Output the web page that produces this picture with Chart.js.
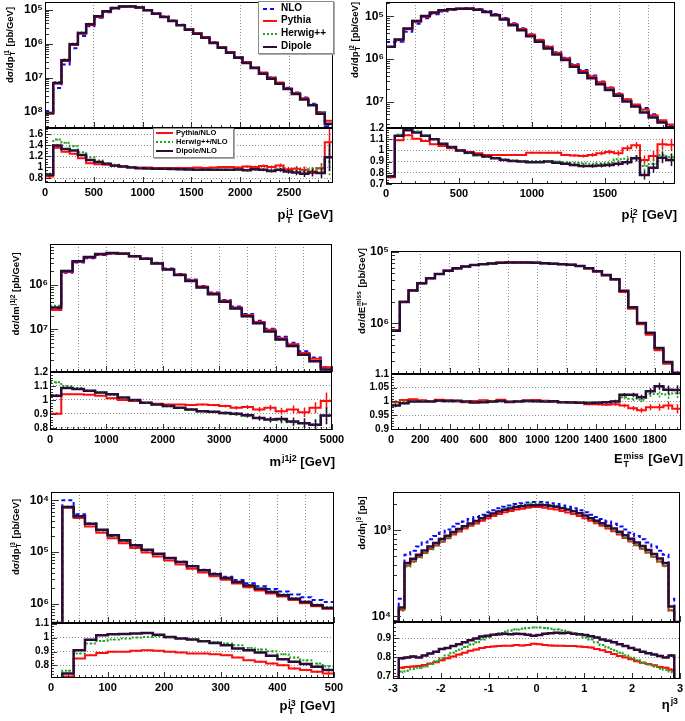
<!DOCTYPE html>
<html>
<head>
<meta charset="utf-8">
<script src="https://cdn.jsdelivr.net/npm/chart.js"></script>
<style>
  body { margin: 0; background: #fff; }
  #page { position: relative; width: 685px; height: 721px; overflow: hidden; font-family: "Liberation Sans", Arial, sans-serif; }
  canvas { position: absolute; }
  .yt, .xt { position: absolute; font-weight: bold; white-space: nowrap; color: #000; line-height: 1; z-index: 5; }
  .yt { font-size: 9.5px; transform: translate(-50%, -50%) rotate(-90deg); }
  .xt { font-size: 13px; transform: translate(-100%, -50%); }
  .ss { display: inline-flex; flex-direction: column; font-size: 0.68em; line-height: 0.95; vertical-align: middle; margin: 0 1px; }
  .sp { font-size: 0.68em; position: relative; top: -0.55em; margin-left: 1px; }
  .leg { position: absolute; background: #fff; border: 1px solid #8a8a8a; box-shadow: 1px 1px 0 #aaa; font-weight: bold; z-index: 6; }
  .leg .row { position: absolute; white-space: nowrap; line-height: 1; }
  .leg .smp { position: absolute; height: 2px; }
</style>
</head>
<body>
<div id="page">
  <canvas id="c1m"></canvas><canvas id="c1r"></canvas>
  <canvas id="c2m"></canvas><canvas id="c2r"></canvas>
  <canvas id="c3m"></canvas><canvas id="c3r"></canvas>
  <canvas id="c4m"></canvas><canvas id="c4r"></canvas>
  <canvas id="c5m"></canvas><canvas id="c5r"></canvas>
  <canvas id="c6m"></canvas><canvas id="c6r"></canvas>

  <div class="yt" style="left:10px;top:45px">dσ/dp<span class="ss"><span>j1</span><span>T</span></span> [pb/GeV]</div>
  <div class="yt" style="left:355px;top:40px">dσ/dp<span class="ss"><span>j2</span><span>T</span></span> [pb/GeV]</div>
  <div class="yt" style="left:16px;top:294px">dσ/dm<span class="sp">j1j2</span> [pb/GeV]</div>
  <div class="yt" style="left:362px;top:291px">dσ/dE<span class="ss"><span>miss</span><span>T</span></span> [pb/GeV]</div>
  <div class="yt" style="left:16px;top:537px">dσ/dp<span class="ss"><span>j3</span><span>T</span></span> [pb/GeV]</div>
  <div class="yt" style="left:362px;top:523px">dσ/dη<span class="sp">j3</span> [pb]</div>

  <div class="xt" style="left:333px;top:216px">p<span class="ss"><span>j1</span><span>T</span></span> [GeV]</div>
  <div class="xt" style="left:677px;top:216px">p<span class="ss"><span>j2</span><span>T</span></span> [GeV]</div>
  <div class="xt" style="left:335px;top:461px">m<span class="sp">j1j2</span> [GeV]</div>
  <div class="xt" style="left:683px;top:460px">E<span class="ss"><span>miss</span><span>T</span></span> [GeV]</div>
  <div class="xt" style="left:335px;top:707px">p<span class="ss"><span>j3</span><span>T</span></span> [GeV]</div>
  <div class="xt" style="left:678px;top:704px">η<span class="sp">j3</span></div>

  <div class="leg" style="left:258px;top:1px;width:74px;height:51px;font-size:10px">
    <div class="smp" style="left:4px;top:6px;width:14px;background:repeating-linear-gradient(90deg,#0a0aff 0 4px,transparent 4px 7px)"></div>
    <div class="row" style="left:22px;top:1px">NLO</div>
    <div class="smp" style="left:4px;top:18px;width:14px;background:#ff0d0d"></div>
    <div class="row" style="left:22px;top:13px">Pythia</div>
    <div class="smp" style="left:4px;top:31px;width:14px;background:repeating-linear-gradient(90deg,#1ea51e 0 2px,transparent 2px 4px)"></div>
    <div class="row" style="left:22px;top:26px">Herwig++</div>
    <div class="smp" style="left:4px;top:44px;width:14px;background:#2c0b3a"></div>
    <div class="row" style="left:22px;top:39px">Dipole</div>
  </div>

  <div class="leg" style="left:153px;top:128px;width:79px;height:28px;font-size:7.5px">
    <div class="smp" style="left:2px;top:3px;width:17px;background:#ff0d0d"></div>
    <div class="row" style="left:22px;top:0px">Pythia/NLO</div>
    <div class="smp" style="left:2px;top:12px;width:17px;background:repeating-linear-gradient(90deg,#1ea51e 0 2px,transparent 2px 4px)"></div>
    <div class="row" style="left:22px;top:9px">Herwig++/NLO</div>
    <div class="smp" style="left:2px;top:21px;width:17px;background:#2c0b3a"></div>
    <div class="row" style="left:22px;top:18px">Dipole/NLO</div>
  </div>
</div>

<script>
// ---- leading jet pT (35 bins, 0-2950 GeV)
const pt1Nlo = [1.08e-8, 5.08e-8, 2.46e-7, 7.40e-7, 1.70e-6, 3.29e-6, 5.84e-6, 8.42e-6, 1.09e-5, 1.24e-5, 1.26e-5, 1.17e-5, 9.79e-6, 7.87e-6, 6.29e-6, 4.83e-6, 3.61e-6, 2.71e-6, 2.08e-6, 1.59e-6, 1.11e-6, 8.09e-7, 5.77e-7, 4.09e-7, 2.90e-7, 2.03e-7, 1.40e-7, 1.02e-7, 7.12e-8, 5.13e-8, 3.74e-8, 2.66e-8, 1.74e-8, 1.00e-8, 3.85e-9];
const pt1Pythia = [8.96e-9, 6.86e-8, 3.15e-7, 9.18e-7, 1.97e-6, 3.52e-6, 6.13e-6, 8.76e-6, 1.11e-5, 1.25e-5, 1.26e-5, 1.16e-5, 9.69e-6, 7.75e-6, 6.20e-6, 4.76e-6, 3.56e-6, 2.67e-6, 2.06e-6, 1.57e-6, 1.10e-6, 8.09e-7, 5.77e-7, 4.05e-7, 2.93e-7, 2.03e-7, 1.43e-7, 1.02e-7, 7.33e-8, 4.92e-8, 3.63e-8, 2.53e-8, 1.60e-8, 9.8e-9, 5.58e-9];
const pt1Herwig = [9.5e-9, 7.62e-8, 3.54e-7, 1.02e-6, 2.16e-6, 3.88e-6, 6.54e-6, 9.01e-6, 1.13e-5, 1.26e-5, 1.26e-5, 1.15e-5, 9.55e-6, 7.63e-6, 6.10e-6, 4.66e-6, 3.47e-6, 2.59e-6, 1.99e-6, 1.51e-6, 1.06e-6, 7.73e-7, 5.48e-7, 3.93e-7, 2.76e-7, 1.95e-7, 1.34e-7, 9.59e-8, 6.76e-8, 4.77e-8, 3.48e-8, 2.42e-8, 1.67e-8, 9.8e-9, 4.24e-9];
const pt1Dipole = [9.33e-9, 7.06e-8, 3.27e-7, 9.62e-7, 2.07e-6, 3.72e-6, 6.37e-6, 8.93e-6, 1.12e-5, 1.25e-5, 1.25e-5, 1.15e-5, 9.55e-6, 7.63e-6, 6.10e-6, 4.66e-6, 3.47e-6, 2.59e-6, 1.98e-6, 1.51e-6, 1.05e-6, 7.69e-7, 5.48e-7, 3.91e-7, 2.73e-7, 1.95e-7, 1.33e-7, 9.48e-8, 6.76e-8, 4.72e-8, 3.37e-8, 2.34e-8, 1.57e-8, 8.91e-9, 4.54e-9];
const pt1RatioPythia = [0.83, 1.35, 1.28, 1.24, 1.16, 1.07, 1.05, 1.04, 1.02, 1.01, 1.0, 0.99, 0.99, 0.985, 0.985, 0.985, 0.985, 0.985, 0.99, 0.985, 0.99, 1.0, 1.0, 0.99, 1.01, 1.0, 1.02, 1.0, 1.03, 0.96, 0.97, 0.95, 0.92, 0.98, 1.45];
const pt1RatioHerwig = [0.88, 1.50, 1.44, 1.38, 1.27, 1.18, 1.12, 1.07, 1.04, 1.02, 1.0, 0.985, 0.975, 0.97, 0.97, 0.965, 0.96, 0.955, 0.955, 0.95, 0.955, 0.955, 0.95, 0.96, 0.95, 0.96, 0.955, 0.94, 0.95, 0.93, 0.93, 0.91, 0.96, 0.98, 1.1];
const pt1RatioDipole = [0.86, 1.39, 1.33, 1.30, 1.22, 1.13, 1.09, 1.06, 1.03, 1.01, 0.99, 0.98, 0.975, 0.97, 0.97, 0.965, 0.96, 0.955, 0.95, 0.95, 0.95, 0.95, 0.95, 0.955, 0.94, 0.96, 0.95, 0.93, 0.95, 0.92, 0.90, 0.88, 0.90, 0.89, 1.18];
const pt1RatioErr = [0.03, 0.02, 0.015, 0.01, 0.01, 0.008, 0.006, 0.005, 0.005, 0.005, 0.005, 0.005, 0.005, 0.006, 0.006, 0.007, 0.008, 0.009, 0.01, 0.011, 0.012, 0.014, 0.016, 0.018, 0.02, 0.022, 0.025, 0.03, 0.035, 0.04, 0.05, 0.06, 0.07, 0.09, 0.25];

// ---- second jet pT (33 bins, 0-1980 GeV)
const pt2Nlo = [2.49e-6, 2.52e-6, 4.36e-6, 6.71e-6, 9.03e-6, 1.11e-5, 1.30e-5, 1.42e-5, 1.51e-5, 1.54e-5, 1.49e-5, 1.33e-5, 1.13e-5, 9.14e-6, 6.82e-6, 5.23e-6, 3.81e-6, 2.82e-6, 1.96e-6, 1.43e-6, 1.07e-6, 7.54e-7, 5.52e-7, 4.08e-7, 2.94e-7, 2.15e-7, 1.55e-7, 1.12e-7, 8.22e-8, 7.09e-8, 5.01e-8, 3.45e-8, 2.74e-8];
const pt2Pythia = [1.89e-6, 2.75e-6, 4.95e-6, 7.41e-6, 9.80e-6, 1.17e-5, 1.35e-5, 1.45e-5, 1.51e-5, 1.52e-5, 1.45e-5, 1.28e-5, 1.08e-5, 8.77e-6, 6.55e-6, 5.02e-6, 3.73e-6, 2.76e-6, 1.92e-6, 1.40e-6, 1.03e-6, 7.20e-7, 5.24e-7, 3.92e-7, 2.87e-7, 2.12e-7, 1.51e-7, 1.14e-7, 8.59e-8, 6.49e-8, 4.76e-8, 3.64e-8, 2.88e-8];
const pt2Herwig = [1.92e-6, 2.87e-6, 5.19e-6, 7.85e-6, 1.02e-5, 1.22e-5, 1.38e-5, 1.46e-5, 1.51e-5, 1.50e-5, 1.42e-5, 1.25e-5, 1.05e-5, 8.41e-6, 6.21e-6, 4.73e-6, 3.45e-6, 2.55e-6, 1.77e-6, 1.29e-6, 9.58e-7, 6.71e-7, 4.89e-7, 3.59e-7, 2.60e-7, 1.91e-7, 1.43e-7, 1.04e-7, 7.69e-8, 6.10e-8, 4.41e-8, 3.31e-8, 2.58e-8];
const pt2Dipole = [1.92e-6, 2.85e-6, 5.15e-6, 7.78e-6, 1.02e-5, 1.22e-5, 1.38e-5, 1.46e-5, 1.51e-5, 1.51e-5, 1.43e-5, 1.26e-5, 1.05e-5, 8.36e-6, 6.17e-6, 4.71e-6, 3.41e-6, 2.52e-6, 1.76e-6, 1.27e-6, 9.40e-7, 6.56e-7, 4.75e-7, 3.51e-7, 2.54e-7, 1.87e-7, 1.36e-7, 1.0e-7, 7.64e-8, 5.53e-8, 4.23e-8, 3.23e-8, 2.51e-8];
const pt2RatioPythia = [0.76, 1.09, 1.135, 1.105, 1.085, 1.055, 1.04, 1.02, 1.0, 0.985, 0.975, 0.96, 0.96, 0.96, 0.96, 0.96, 0.98, 0.98, 0.98, 0.98, 0.96, 0.955, 0.95, 0.96, 0.975, 0.985, 0.975, 1.02, 1.045, 0.915, 0.95, 1.055, 1.05];
const pt2RatioHerwig = [0.77, 1.14, 1.19, 1.17, 1.135, 1.10, 1.06, 1.03, 1.0, 0.975, 0.955, 0.94, 0.93, 0.92, 0.91, 0.905, 0.905, 0.905, 0.905, 0.90, 0.895, 0.89, 0.885, 0.88, 0.885, 0.89, 0.92, 0.925, 0.935, 0.86, 0.88, 0.96, 0.94];
const pt2RatioDipole = [0.77, 1.13, 1.18, 1.16, 1.13, 1.10, 1.06, 1.03, 1.0, 0.98, 0.96, 0.945, 0.93, 0.915, 0.905, 0.90, 0.895, 0.895, 0.90, 0.89, 0.88, 0.87, 0.86, 0.86, 0.865, 0.87, 0.88, 0.895, 0.93, 0.78, 0.845, 0.935, 0.915];
const pt2RatioErr = [0.01, 0.008, 0.006, 0.005, 0.005, 0.004, 0.004, 0.004, 0.004, 0.004, 0.004, 0.005, 0.005, 0.005, 0.006, 0.006, 0.007, 0.008, 0.009, 0.01, 0.011, 0.012, 0.014, 0.016, 0.018, 0.02, 0.022, 0.025, 0.03, 0.04, 0.045, 0.05, 0.055];

// ---- dijet mass (25 bins, 0-5000 GeV)
const mjjNlo = [2.99e-7, 1.85e-6, 3.12e-6, 3.93e-6, 4.63e-6, 4.94e-6, 4.89e-6, 4.34e-6, 3.87e-6, 3.08e-6, 2.29e-6, 1.74e-6, 1.30e-6, 9.33e-7, 6.67e-7, 4.54e-7, 3.25e-7, 2.19e-7, 1.56e-7, 1.03e-7, 6.83e-8, 4.95e-8, 3.23e-8, 2.32e-8, 1.41e-8];
const mjjPythia = [2.70e-7, 1.92e-6, 3.24e-6, 4.08e-6, 4.77e-6, 5.00e-6, 4.89e-6, 4.31e-6, 3.79e-6, 3.00e-6, 2.22e-6, 1.68e-6, 1.25e-6, 9.03e-7, 6.42e-7, 4.34e-7, 3.07e-7, 2.08e-7, 1.45e-7, 9.72e-8, 6.28e-8, 4.61e-8, 2.95e-8, 2.19e-8, 1.40e-8];
const mjjHerwig = [3.37e-7, 2.04e-6, 3.39e-6, 4.19e-6, 4.87e-6, 5.12e-6, 4.96e-6, 4.33e-6, 3.79e-6, 2.98e-6, 2.19e-6, 1.64e-6, 1.21e-6, 8.56e-7, 6.08e-7, 4.11e-7, 2.92e-7, 1.94e-7, 1.36e-7, 8.84e-8, 5.84e-8, 4.16e-8, 2.70e-8, 1.91e-8, 1.25e-8];
const mjjDipole = [3.08e-7, 2.01e-6, 3.36e-6, 4.19e-6, 4.88e-6, 5.14e-6, 4.97e-6, 4.34e-6, 3.79e-6, 2.98e-6, 2.19e-6, 1.64e-6, 1.21e-6, 8.58e-7, 6.10e-7, 4.12e-7, 2.93e-7, 1.95e-7, 1.36e-7, 8.87e-8, 5.89e-8, 4.19e-8, 2.69e-8, 1.91e-8, 1.25e-8];
const mjjRatioPythia = [0.902, 1.04, 1.04, 1.037, 1.03, 1.012, 1.0, 0.993, 0.98, 0.973, 0.968, 0.968, 0.963, 0.968, 0.963, 0.956, 0.944, 0.949, 0.932, 0.944, 0.92, 0.932, 0.912, 0.944, 0.993];
const mjjRatioHerwig = [1.127, 1.1, 1.085, 1.066, 1.052, 1.036, 1.014, 0.998, 0.98, 0.966, 0.955, 0.942, 0.93, 0.918, 0.912, 0.905, 0.898, 0.886, 0.87, 0.858, 0.855, 0.84, 0.835, 0.825, 0.885];
const mjjRatioDipole = [1.03, 1.085, 1.078, 1.066, 1.054, 1.04, 1.017, 1.0, 0.98, 0.968, 0.956, 0.944, 0.932, 0.92, 0.915, 0.907, 0.902, 0.89, 0.87, 0.86, 0.863, 0.846, 0.834, 0.822, 0.888];
const mjjRatioErr = [0.01, 0.004, 0.003, 0.003, 0.003, 0.003, 0.003, 0.003, 0.004, 0.004, 0.005, 0.005, 0.006, 0.007, 0.008, 0.01, 0.012, 0.014, 0.017, 0.02, 0.024, 0.028, 0.034, 0.04, 0.06];

// ---- missing ET (33 bins, 0-1980 GeV)
const metNlo = [8.04e-7, 2.01e-6, 2.89e-6, 3.65e-6, 4.27e-6, 4.90e-6, 5.45e-6, 5.87e-6, 6.27e-6, 6.57e-6, 6.77e-6, 6.9e-6, 7.04e-6, 7.13e-6, 7.12e-6, 7.11e-6, 7.04e-6, 6.95e-6, 6.84e-6, 6.77e-6, 6.63e-6, 6.38e-6, 5.94e-6, 5.38e-6, 4.76e-6, 4.15e-6, 2.80e-6, 1.65e-6, 1.005e-6, 7.14e-7, 4.31e-7, 2.78e-7, 1.97e-7];
const metPythia = [8.02e-7, 2.02e-6, 2.91e-6, 3.66e-6, 4.28e-6, 4.93e-6, 5.47e-6, 5.87e-6, 6.25e-6, 6.58e-6, 6.80e-6, 6.9e-6, 7.08e-6, 7.13e-6, 7.13e-6, 7.14e-6, 7.08e-6, 6.97e-6, 6.83e-6, 6.75e-6, 6.62e-6, 6.35e-6, 5.88e-6, 5.33e-6, 4.70e-6, 4.11e-6, 2.76e-6, 1.61e-6, 9.73e-7, 6.99e-7, 4.22e-7, 2.74e-7, 1.92e-7];
const metHerwig = [8.04e-7, 2.0e-6, 2.89e-6, 3.66e-6, 4.27e-6, 4.90e-6, 5.45e-6, 5.88e-6, 6.26e-6, 6.56e-6, 6.77e-6, 6.91e-6, 7.04e-6, 7.12e-6, 7.13e-6, 7.11e-6, 7.04e-6, 6.96e-6, 6.83e-6, 6.76e-6, 6.61e-6, 6.36e-6, 5.92e-6, 5.36e-6, 4.75e-6, 4.16e-6, 2.84e-6, 1.67e-6, 1.01e-6, 7.33e-7, 4.43e-7, 2.85e-7, 2.03e-7];
const metDipole = [7.92e-7, 2.0e-6, 2.89e-6, 3.65e-6, 4.27e-6, 4.91e-6, 5.46e-6, 5.89e-6, 6.27e-6, 6.54e-6, 6.75e-6, 6.9e-6, 7.05e-6, 7.12e-6, 7.12e-6, 7.12e-6, 7.05e-6, 6.95e-6, 6.85e-6, 6.75e-6, 6.6e-6, 6.35e-6, 5.9e-6, 5.35e-6, 4.75e-6, 4.15e-6, 2.87e-6, 1.69e-6, 1.02e-6, 7.4e-7, 4.55e-7, 2.9e-7, 2.05e-7];
const metRatioPythia = [0.997, 1.005, 1.008, 1.004, 1.002, 1.006, 1.004, 1.0, 0.997, 1.002, 1.004, 1.0, 1.006, 1.0, 1.002, 1.004, 1.005, 1.003, 0.998, 0.997, 0.998, 0.995, 0.99, 0.99, 0.988, 0.99, 0.985, 0.975, 0.968, 0.979, 0.979, 0.985, 0.973];
const metRatioHerwig = [1.0, 0.997, 1.0, 1.002, 1.0, 1.001, 1.0, 1.002, 0.999, 0.998, 1.0, 1.001, 1.0, 0.999, 1.001, 1.0, 1.0, 1.001, 0.999, 0.998, 0.997, 0.997, 0.996, 0.997, 0.998, 1.002, 1.015, 1.01, 1.006, 1.027, 1.027, 1.025, 1.03];
const metRatioDipole = [0.985, 0.993, 1.0, 1.0, 1.0, 1.003, 1.002, 1.003, 1.0, 0.996, 0.997, 1.0, 1.002, 0.998, 1.0, 1.002, 1.001, 1.0, 1.001, 0.997, 0.996, 0.995, 0.994, 0.995, 0.997, 1.0, 1.024, 1.024, 1.015, 1.037, 1.055, 1.043, 1.042];
const metRatioErr = [0.006, 0.004, 0.003, 0.003, 0.003, 0.003, 0.003, 0.003, 0.003, 0.003, 0.003, 0.003, 0.003, 0.003, 0.003, 0.003, 0.003, 0.003, 0.003, 0.003, 0.004, 0.004, 0.004, 0.005, 0.005, 0.006, 0.007, 0.008, 0.009, 0.011, 0.013, 0.015, 0.017];

// ---- third jet pT (25 bins, 0-500 GeV)
const pt3Nlo = [0, 1.0e-4, 5.38e-5, 3.58e-5, 2.65e-5, 2.05e-5, 1.64e-5, 1.31e-5, 1.07e-5, 9.09e-6, 7.62e-6, 6.45e-6, 5.35e-6, 4.54e-6, 3.85e-6, 3.32e-6, 2.86e-6, 2.48e-6, 2.18e-6, 1.93e-6, 1.72e-6, 1.51e-6, 1.33e-6, 1.18e-6, 1.08e-6];
const pt3Pythia = [0, 7.2e-5, 4.57e-5, 3.13e-5, 2.36e-5, 1.84e-5, 1.47e-5, 1.19e-5, 9.74e-6, 8.23e-6, 6.84e-6, 5.76e-6, 4.74e-6, 4.02e-6, 3.39e-6, 2.9e-6, 2.45e-6, 2.08e-6, 1.8e-6, 1.57e-6, 1.38e-6, 1.18e-6, 1.02e-6, 8.91e-7, 8.02e-7];
const pt3Herwig = [0, 7.62e-5, 4.77e-5, 3.43e-5, 2.59e-5, 2.02e-5, 1.63e-5, 1.31e-5, 1.08e-5, 9.18e-6, 7.62e-6, 6.4e-6, 5.28e-6, 4.43e-6, 3.73e-6, 3.18e-6, 2.7e-6, 2.3e-6, 1.99e-6, 1.74e-6, 1.52e-6, 1.29e-6, 1.11e-6, 9.6e-7, 8.59e-7];
const pt3Dipole = [0, 7.43e-5, 4.9e-5, 3.53e-5, 2.7e-5, 2.1e-5, 1.68e-5, 1.35e-5, 1.11e-5, 9.28e-6, 7.66e-6, 6.4e-6, 5.28e-6, 4.42e-6, 3.7e-6, 3.14e-6, 2.63e-6, 2.26e-6, 1.95e-6, 1.68e-6, 1.45e-6, 1.25e-6, 1.08e-6, 9.3e-7, 8.25e-7];
const pt3RatioPythia = [0, 0.72, 0.85, 0.874, 0.89, 0.898, 0.898, 0.905, 0.91, 0.905, 0.898, 0.893, 0.886, 0.886, 0.881, 0.874, 0.857, 0.838, 0.826, 0.814, 0.802, 0.779, 0.767, 0.755, 0.743];
const pt3RatioHerwig = [0, 0.762, 0.886, 0.957, 0.976, 0.986, 0.993, 1.0, 1.005, 1.01, 1.0, 0.993, 0.986, 0.976, 0.969, 0.957, 0.945, 0.926, 0.914, 0.902, 0.881, 0.857, 0.838, 0.814, 0.795];
const pt3RatioDipole = [0, 0.743, 0.91, 0.985, 1.017, 1.024, 1.026, 1.029, 1.033, 1.021, 1.005, 0.993, 0.986, 0.974, 0.962, 0.945, 0.921, 0.91, 0.893, 0.869, 0.845, 0.826, 0.81, 0.79, 0.767];
const pt3RatioErr = [0, 0.005, 0.004, 0.004, 0.004, 0.004, 0.004, 0.004, 0.004, 0.004, 0.004, 0.005, 0.005, 0.005, 0.005, 0.006, 0.006, 0.006, 0.007, 0.007, 0.008, 0.008, 0.009, 0.009, 0.01];

// ---- third jet eta (50 bins, -3..3)
const eta3Nlo = [0, 1.6e-4, 5.2e-4, 5.8e-4, 6.5e-4, 7.2e-4, 7.9e-4, 8.6e-4, 9.4e-4, 1.02e-3, 1.11e-3, 1.19e-3, 1.27e-3, 1.35e-3, 1.43e-3, 1.52e-3, 1.62e-3, 1.71e-3, 1.80e-3, 1.88e-3, 1.95e-3, 2.02e-3, 2.07e-3, 2.11e-3, 2.14e-3, 2.14e-3, 2.11e-3, 2.07e-3, 2.02e-3, 1.95e-3, 1.88e-3, 1.80e-3, 1.71e-3, 1.62e-3, 1.52e-3, 1.43e-3, 1.35e-3, 1.27e-3, 1.19e-3, 1.11e-3, 1.02e-3, 9.4e-4, 8.6e-4, 7.9e-4, 7.2e-4, 6.5e-4, 5.8e-4, 5.2e-4, 1.6e-4, 0];
const eta3Pythia = [0, 1.19e-4, 3.9e-4, 4.36e-4, 4.91e-4, 5.47e-4, 6.07e-4, 6.67e-4, 7.38e-4, 8.11e-4, 8.94e-4, 9.7e-4, 1.048e-3, 1.127e-3, 1.204e-3, 1.292e-3, 1.385e-3, 1.467e-3, 1.548e-3, 1.621e-3, 1.681e-3, 1.747e-3, 1.786e-3, 1.825e-3, 1.866e-3, 1.862e-3, 1.825e-3, 1.786e-3, 1.741e-3, 1.681e-3, 1.617e-3, 1.548e-3, 1.465e-3, 1.385e-3, 1.295e-3, 1.208e-3, 1.131e-3, 1.052e-3, 9.73e-4, 8.97e-4, 8.16e-4, 7.43e-4, 6.71e-4, 6.1e-4, 5.51e-4, 4.93e-4, 4.35e-4, 3.87e-4, 1.18e-4, 0];
const eta3Herwig = [0, 1.16e-4, 3.8e-4, 4.29e-4, 4.84e-4, 5.41e-4, 6.04e-4, 6.71e-4, 7.47e-4, 8.26e-4, 9.16e-4, 1.0e-3, 1.086e-3, 1.172e-3, 1.258e-3, 1.36e-3, 1.471e-3, 1.57e-3, 1.67e-3, 1.758e-3, 1.837e-3, 1.915e-3, 1.971e-3, 2.015e-3, 2.05e-3, 2.05e-3, 2.015e-3, 1.971e-3, 1.915e-3, 1.837e-3, 1.758e-3, 1.67e-3, 1.57e-3, 1.466e-3, 1.36e-3, 1.258e-3, 1.168e-3, 1.082e-3, 9.97e-4, 9.16e-4, 8.26e-4, 7.5e-4, 6.75e-4, 6.1e-4, 5.49e-4, 4.89e-4, 4.3e-4, 3.82e-4, 1.16e-4, 0];
const eta3Dipole = [0, 1.27e-4, 4.16e-4, 4.67e-4, 5.2e-4, 5.83e-4, 6.48e-4, 7.14e-4, 7.94e-4, 8.67e-4, 9.55e-4, 1.035e-3, 1.118e-3, 1.202e-3, 1.287e-3, 1.383e-3, 1.482e-3, 1.573e-3, 1.66e-3, 1.739e-3, 1.798e-3, 1.869e-3, 1.911e-3, 1.941e-3, 1.958e-3, 1.965e-3, 1.952e-3, 1.921e-3, 1.879e-3, 1.81e-3, 1.748e-3, 1.665e-3, 1.577e-3, 1.487e-3, 1.386e-3, 1.294e-3, 1.208e-3, 1.128e-3, 1.047e-3, 9.66e-4, 8.77e-4, 7.99e-4, 7.22e-4, 6.56e-4, 5.92e-4, 5.3e-4, 4.69e-4, 4.16e-4, 1.3e-4, 0];
const eta3RatioPythia = [0, 0.745, 0.75, 0.752, 0.755, 0.76, 0.768, 0.775, 0.785, 0.795, 0.805, 0.815, 0.825, 0.835, 0.842, 0.85, 0.855, 0.858, 0.86, 0.862, 0.862, 0.865, 0.863, 0.865, 0.872, 0.87, 0.865, 0.863, 0.862, 0.862, 0.86, 0.86, 0.857, 0.855, 0.852, 0.845, 0.838, 0.828, 0.818, 0.808, 0.80, 0.79, 0.78, 0.772, 0.765, 0.758, 0.75, 0.745, 0.735, 0];
const eta3RatioHerwig = [0, 0.725, 0.73, 0.74, 0.745, 0.752, 0.765, 0.78, 0.795, 0.81, 0.825, 0.84, 0.855, 0.868, 0.88, 0.895, 0.908, 0.918, 0.928, 0.935, 0.942, 0.948, 0.952, 0.955, 0.958, 0.958, 0.955, 0.952, 0.948, 0.942, 0.935, 0.928, 0.918, 0.905, 0.895, 0.88, 0.865, 0.852, 0.838, 0.825, 0.81, 0.798, 0.785, 0.772, 0.762, 0.752, 0.742, 0.735, 0.725, 0];
const eta3RatioDipole = [0, 0.795, 0.80, 0.805, 0.80, 0.81, 0.82, 0.83, 0.845, 0.85, 0.86, 0.87, 0.88, 0.89, 0.90, 0.91, 0.915, 0.92, 0.922, 0.925, 0.922, 0.925, 0.923, 0.92, 0.915, 0.918, 0.925, 0.928, 0.93, 0.928, 0.93, 0.925, 0.922, 0.918, 0.912, 0.905, 0.895, 0.888, 0.88, 0.87, 0.86, 0.85, 0.84, 0.83, 0.822, 0.815, 0.808, 0.80, 0.81, 0];
const eta3RatioErr = [0, 0.008, 0.006, 0.006, 0.005, 0.005, 0.005, 0.005, 0.005, 0.005, 0.005, 0.005, 0.005, 0.005, 0.005, 0.005, 0.005, 0.005, 0.005, 0.005, 0.005, 0.005, 0.005, 0.005, 0.005, 0.005, 0.005, 0.005, 0.005, 0.005, 0.005, 0.005, 0.005, 0.005, 0.005, 0.005, 0.005, 0.005, 0.005, 0.005, 0.005, 0.005, 0.005, 0.005, 0.005, 0.005, 0.006, 0.006, 0.008, 0];

// axis settings for each pad
const panels = [
  { id: 1, bins: [0, 2950, 35], nlo: pt1Nlo, pythia: pt1Pythia, herwig: pt1Herwig, dipole: pt1Dipole,
    rPythia: pt1RatioPythia, rHerwig: pt1RatioHerwig, rDipole: pt1RatioDipole, rErr: pt1RatioErr,
    frame: [45, 333, 2, 128, 183], logMin: 3.4e-9, logMax: 1.68e-5, decades: [1e-5, 1e-6, 1e-7, 1e-8],
    xGrid: [500, 1000, 1500, 2000, 2500], xLabels: [0, 500, 1000, 1500, 2000, 2500], xStep: [500, 100],
    rMin: 0.71, rMax: 1.71, rLabels: [0.8, 1, 1.2, 1.4, 1.6], rGrid: [0.8, 1, 1.2, 1.4, 1.6], rStep: [0.2, 0.05] },
  { id: 2, bins: [0, 1980, 33], nlo: pt2Nlo, pythia: pt2Pythia, herwig: pt2Herwig, dipole: pt2Dipole,
    rPythia: pt2RatioPythia, rHerwig: pt2RatioHerwig, rDipole: pt2RatioDipole, rErr: pt2RatioErr,
    frame: [386, 675, 2, 128, 184], logMin: 2.4e-8, logMax: 2.16e-5, decades: [1e-5, 1e-6, 1e-7],
    xGrid: [200, 400, 600, 800, 1000, 1200, 1400, 1600, 1800], xLabels: [0, 500, 1000, 1500], xStep: [500, 100],
    rMin: 0.7, rMax: 1.2, rLabels: [0.7, 0.8, 0.9, 1, 1.1, 1.2], rGrid: [0.8, 0.9, 1, 1.1], rStep: [0.1, 0.02] },
  { id: 3, bins: [0, 5000, 25], nlo: mjjNlo, pythia: mjjPythia, herwig: mjjHerwig, dipole: mjjDipole,
    rPythia: mjjRatioPythia, rHerwig: mjjRatioHerwig, rDipole: mjjRatioDipole, rErr: mjjRatioErr,
    frame: [50, 332, 244, 372, 430], logMin: 1.1e-8, logMax: 8.15e-6, decades: [1e-6, 1e-7],
    xGrid: [500, 1000, 1500, 2000, 2500, 3000, 3500, 4000, 4500], xLabels: [0, 1000, 2000, 3000, 4000, 5000], xStep: [1000, 100],
    rMin: 0.785, rMax: 1.2, rLabels: [0.8, 0.9, 1, 1.1, 1.2], rGrid: [0.8, 0.9, 1, 1.1], rStep: [0.1, 0.02] },
  { id: 4, bins: [0, 1980, 33], nlo: metNlo, pythia: metPythia, herwig: metHerwig, dipole: metDipole,
    rPythia: metRatioPythia, rHerwig: metRatioHerwig, rDipole: metRatioDipole, rErr: metRatioErr,
    frame: [391, 681, 251, 374, 430], logMin: 1.97e-7, logMax: 1.03e-5, decades: [1e-5, 1e-6],
    xGrid: [200, 400, 600, 800, 1000, 1200, 1400, 1600, 1800], xLabels: [0, 200, 400, 600, 800, 1000, 1200, 1400, 1600, 1800], xStep: [200, 50],
    rMin: 0.896, rMax: 1.1, rLabels: [0.9, 0.95, 1, 1.05, 1.1], rGrid: [0.95, 1, 1.05], rStep: [0.05, 0.01] },
  { id: 5, bins: [0, 500, 25], nlo: pt3Nlo, pythia: pt3Pythia, herwig: pt3Herwig, dipole: pt3Dipole,
    rPythia: pt3RatioPythia, rHerwig: pt3RatioHerwig, rDipole: pt3RatioDipole, rErr: pt3RatioErr,
    frame: [51, 334, 492, 623, 678], logMin: 4.23e-7, logMax: 1.45e-4, decades: [1e-4, 1e-5, 1e-6],
    xGrid: [50, 100, 150, 200, 250, 300, 350, 400, 450], xLabels: [0, 100, 200, 300, 400, 500], xStep: [100, 10],
    rMin: 0.71, rMax: 1.105, rLabels: [0.8, 0.9, 1, 1.1], rGrid: [0.8, 0.9, 1], rStep: [0.1, 0.02] },
  { id: 6, bins: [-3, 3, 50], nlo: eta3Nlo, pythia: eta3Pythia, herwig: eta3Herwig, dipole: eta3Dipole,
    rPythia: eta3RatioPythia, rHerwig: eta3RatioHerwig, rDipole: eta3RatioDipole, rErr: eta3RatioErr,
    frame: [393, 680, 492, 622, 679], logMin: 8.6e-5, logMax: 2.79e-3, decades: [1e-3, 1e-4],
    xGrid: [-2, -1, 0, 1, 2], xLabels: [-3, -2, -1, 0, 1, 2, 3], xStep: [1, 0.2],
    rMin: 0.686, rMax: 0.987, rLabels: [0.7, 0.8, 0.9], rGrid: [0.8, 0.9], rStep: [0.1, 0.02] }
];

const seriesStyle = {
  nlo:    { label: 'NLO',      borderColor: '#0a0aff', borderWidth: 2,   borderDash: [4, 3], order: 4 },
  pythia: { label: 'Pythia',   borderColor: '#ff0d0d', borderWidth: 2,   order: 3 },
  herwig: { label: 'Herwig++', borderColor: '#1ea51e', borderWidth: 2,   borderDash: [2, 2], order: 2 },
  dipole: { label: 'Dipole',   borderColor: '#2c0b3a', borderWidth: 2.5, order: 1 }
};
const xTickFont = { family: 'Liberation Sans', size: 11, weight: 'bold' };
const logTickFont = { family: 'Liberation Sans', size: 12, weight: 'bold' };
const ratioTickFont = { family: 'Liberation Sans', size: 10, weight: 'bold' };
const SUP = { '0': '⁰', '1': '¹', '2': '²', '3': '³', '4': '⁴', '5': '⁵', '6': '⁶', '7': '⁷', '8': '⁸', '9': '⁹' };

function binEdges(b) {
  const out = [];
  for (let i = 0; i <= b[2]; i++) out.push(b[0] + (b[1] - b[0]) * i / b[2]);
  return out;
}

// histogram outline: value of bin i held from edge i to edge i+1
function stepData(edges, values, floor) {
  const pts = values.map((v, i) => ({ x: edges[i], y: (floor !== undefined && !(v > 0)) ? floor : v }));
  pts.push({ x: edges[edges.length - 1], y: pts[pts.length - 1].y });
  return pts;
}

function dataset(key, edges, values, floor, err) {
  return Object.assign({ data: stepData(edges, values, floor), stepped: true, pointRadius: 0, fill: false, clip: 0,
    binValues: values, binErr: err }, seriesStyle[key]);
}

function linTicks(min, max, major, minor, lmaj, lmin) {
  const out = [];
  for (let k = Math.ceil(min / minor - 1e-9); k * minor <= max + 1e-9; k++) {
    const v = k * minor;
    const r = v / major;
    out.push([v, Math.abs(r - Math.round(r)) < 1e-6 ? lmaj : lmin]);
  }
  return out;
}

function logTicks(min, max, lmaj, lmin) {
  const out = [];
  for (let e = Math.floor(Math.log10(min)); e <= Math.ceil(Math.log10(max)); e++) {
    for (let m = 1; m <= 9; m++) {
      const v = m * Math.pow(10, e);
      if (v >= min && v <= max) out.push([v, m === 1 ? lmaj : lmin]);
    }
  }
  return out;
}

// vertical error bars at bin centres of the ratio histograms
const errorBars = {
  id: 'errorBars',
  afterDatasetsDraw(chart, args, o) {
    if (!o.edges) return;
    const { ctx, chartArea: a, scales } = chart;
    ctx.save();
    ctx.beginPath();
    ctx.rect(a.left, a.top, a.right - a.left, a.bottom - a.top);
    ctx.clip();
    const sets = chart.data.datasets.slice().sort((p, q) => q.order - p.order);
    sets.forEach(ds => {
      if (!ds.binErr) return;
      ctx.strokeStyle = ds.borderColor;
      ctx.lineWidth = 1.5;
      ctx.setLineDash(ds.borderDash || []);
      ctx.beginPath();
      ds.binValues.forEach((v, i) => {
        const e = ds.binErr[i];
        if (!(v > 0) || !(e > 0)) return;
        const x = Math.round(scales.x.getPixelForValue((o.edges[i] + o.edges[i + 1]) / 2)) + 0.5;
        ctx.moveTo(x, scales.y.getPixelForValue(v - e));
        ctx.lineTo(x, scales.y.getPixelForValue(v + e));
      });
      ctx.stroke();
    });
    ctx.restore();
  }
};

// black frame and inward tick marks, as in ROOT pads
const rootFrame = {
  id: 'rootFrame',
  afterDraw(chart, args, o) {
    const { ctx, chartArea: a, scales } = chart;
    ctx.save();
    ctx.strokeStyle = '#333';
    ctx.lineWidth = 1;
    ctx.beginPath();
    o.xTicks.forEach(([v, len]) => {
      const px = Math.round(scales.x.getPixelForValue(v)) + 0.5;
      ctx.moveTo(px, a.bottom);
      ctx.lineTo(px, a.bottom - len);
    });
    o.yTicks.forEach(([v, len]) => {
      const py = Math.round(scales.y.getPixelForValue(v)) + 0.5;
      ctx.moveTo(a.left, py);
      ctx.lineTo(a.left + len, py);
    });
    ctx.stroke();
    ctx.strokeStyle = '#000';
    ctx.strokeRect(a.left + 0.5, a.top + 0.5, a.right - a.left - 1, a.bottom - a.top - 1);
    ctx.restore();
  }
};

function placeCanvas(cv, x0, x1, y0, y1, pad) {
  cv.width = x1 - x0 + pad.l + pad.r;
  cv.height = y1 - y0 + pad.t + pad.b;
  cv.style.left = (x0 - pad.l) + 'px';
  cv.style.top = (y0 - pad.t) + 'px';
}

function drawPanel(p) {
  const [x0, x1, yTop, ySplit, yBot] = p.frame;
  const edges = binEdges(p.bins);
  const xMin = p.bins[0], xMax = p.bins[1];

  // upper pad: cross sections on a log axis
  const padM = { l: 46, r: 24, t: 8, b: 0 };
  const cm = document.getElementById('c' + p.id + 'm');
  placeCanvas(cm, x0, x1, yTop, ySplit, padM);
  new Chart(cm, {
    type: 'line',
    data: { datasets: [
      dataset('nlo', edges, p.nlo, p.logMin),
      dataset('pythia', edges, p.pythia, p.logMin),
      dataset('herwig', edges, p.herwig, p.logMin),
      dataset('dipole', edges, p.dipole, p.logMin)
    ] },
    options: {
      responsive: false, animation: false, events: [],
      layout: { padding: { left: 0, right: padM.r, top: padM.t, bottom: 0 } },
      plugins: { legend: { display: false }, tooltip: { enabled: false },
        rootFrame: { xTicks: linTicks(xMin, xMax, p.xStep[0], p.xStep[1], 6, 3), yTicks: logTicks(p.logMin, p.logMax, 8, 4) } },
      scales: {
        x: { type: 'linear', min: xMin, max: xMax,
          afterFit: s => { s.height = 0; s.paddingLeft = 0; s.paddingRight = 0; },
          afterBuildTicks: s => { s.ticks = p.xGrid.map(v => ({ value: v })); },
          ticks: { display: false },
          grid: { drawTicks: false, color: '#8c8c8c', lineWidth: 1 },
          border: { display: false, dash: [1, 2] } },
        y: { type: 'logarithmic', min: p.logMin, max: p.logMax,
          afterFit: s => { s.width = padM.l; s.paddingTop = 0; s.paddingBottom = 0; },
          afterBuildTicks: s => { s.ticks = p.decades.map(v => ({ value: v })); },
          ticks: { font: logTickFont, color: '#000', padding: 2, autoSkip: false,
            callback: v => '10' + String(Math.round(-Math.log10(v))).split('').map(c => SUP[c]).join('') },
          grid: { display: false, drawTicks: false },
          border: { display: false } }
      }
    },
    plugins: [rootFrame]
  });

  // lower pad: ratios to NLO
  const padR = { l: 46, r: 24, t: 8, b: 26 };
  const cr = document.getElementById('c' + p.id + 'r');
  placeCanvas(cr, x0, x1, ySplit, yBot, padR);
  new Chart(cr, {
    type: 'line',
    data: { datasets: [
      dataset('pythia', edges, p.rPythia, undefined, p.rErr),
      dataset('herwig', edges, p.rHerwig, undefined, p.rErr),
      dataset('dipole', edges, p.rDipole, undefined, p.rErr)
    ] },
    options: {
      responsive: false, animation: false, events: [],
      layout: { padding: { left: 0, right: padR.r, top: padR.t, bottom: 0 } },
      plugins: { legend: { display: false }, tooltip: { enabled: false },
        errorBars: { edges: edges },
        rootFrame: { xTicks: linTicks(xMin, xMax, p.xStep[0], p.xStep[1], 6, 3), yTicks: linTicks(p.rMin, p.rMax, p.rStep[0], p.rStep[1], 6, 3) } },
      scales: {
        x: { type: 'linear', min: xMin, max: xMax,
          afterFit: s => { s.height = padR.b; s.paddingLeft = 0; s.paddingRight = 0; },
          afterBuildTicks: s => { s.ticks = p.xLabels.map(v => ({ value: v })); },
          ticks: { font: xTickFont, color: '#000', padding: 3, autoSkip: false, maxRotation: 0, callback: v => String(v) },
          grid: { display: false, drawTicks: false },
          border: { display: false } },
        y: { type: 'linear', min: p.rMin, max: p.rMax,
          afterFit: s => { s.width = padR.l; s.paddingTop = 0; s.paddingBottom = 0; },
          afterBuildTicks: s => { s.ticks = p.rLabels.map(v => ({ value: v })); },
          ticks: { font: ratioTickFont, color: '#000', padding: 2, autoSkip: false, callback: v => String(Math.round(v * 100) / 100) },
          grid: { drawTicks: false, lineWidth: 1,
            color: c => (c.tick && p.rGrid.includes(c.tick.value)) ? '#8c8c8c' : 'rgba(0,0,0,0)' },
          border: { display: false, dash: [1, 2] } }
      }
    },
    plugins: [errorBars, rootFrame]
  });
}

panels.forEach(drawPanel);
</script>
</body>
</html>
